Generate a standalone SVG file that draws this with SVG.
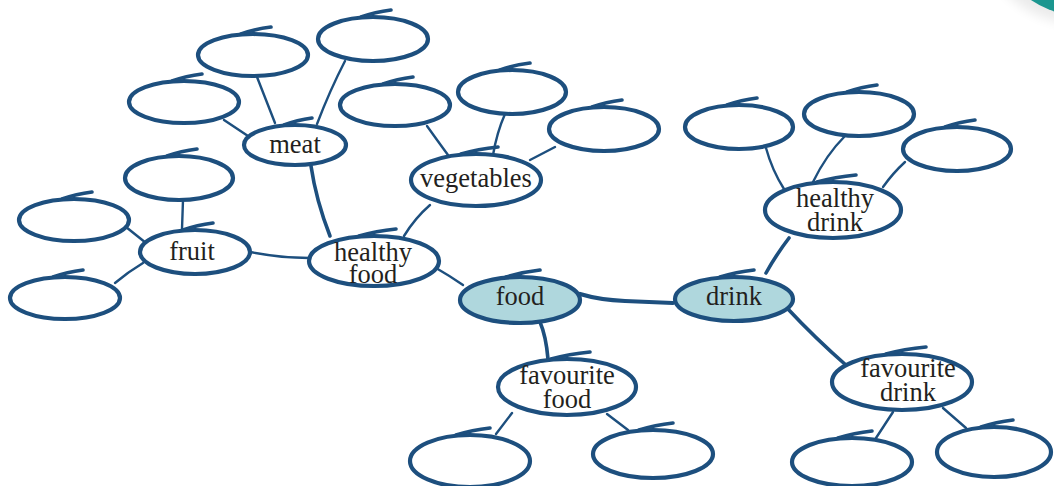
<svg xmlns="http://www.w3.org/2000/svg" width="1054" height="486" viewBox="0 0 1054 486">
  <defs>
    <style>
      .ring { fill: #ffffff; stroke: #1d4f7e; stroke-width: 4.2; }
      .hub { fill: #afd7dd; stroke: #1d4f7e; stroke-width: 4.2; }
      .tail { fill: none; stroke: #1d4f7e; stroke-width: 3.6; stroke-linecap: round; }
      .link { fill: none; stroke: #1d4f7e; stroke-width: 2.4; stroke-linecap: round; }
      .link.heavy { stroke-width: 3.6; }
      .label { font-family: "Liberation Serif", "Times New Roman", serif; font-size: 26.5px; fill: #231f20; text-anchor: middle; }
    </style>
    <filter id="soft" x="-50%" y="-50%" width="200%" height="200%">
      <feGaussianBlur stdDeviation="6"/>
    </filter>
  </defs>

  <rect width="1054" height="486" fill="#ffffff"/>

  <!-- corner badge -->
  <g id="corner-badge">
    <circle cx="1080" cy="-80" r="104" fill="#000000" opacity="0.08" filter="url(#soft)"/>
    <circle cx="1087" cy="-84" r="101" fill="#1b968f"/>
  </g>

  <!-- connectors -->
  <g id="connectors">
    <path class="link" d="M257,77 L275,123"/>
    <path class="link" d="M345,61 Q330,90 317,124"/>
    <path class="link" d="M224,120 L248,136"/>
    <path class="link heavy" d="M311,166 Q316,200 330,236"/>
    <path class="link" d="M427,126 Q437,140 448,155"/>
    <path class="link" d="M505,114 Q497,132 493,155"/>
    <path class="link" d="M555,147 L530,160"/>
    <path class="link" d="M430,205 Q415,218 404,236"/>
    <path class="link" d="M183,200 L182,229"/>
    <path class="link" d="M126,227 L146,243"/>
    <path class="link" d="M115,283 Q128,272 143,263"/>
    <path class="link" d="M250,252 Q280,258 309,258"/>
    <path class="link" d="M436,268 Q450,276 463,285"/>
    <path class="link heavy" d="M580,294 Q600,300 625,301 L673,303" style="stroke-width:4.2"/>
    <path class="link heavy" d="M540,322 Q546,336 548,359"/>
    <path class="link heavy" d="M766,273 Q776,255 789,238"/>
    <path class="link heavy" d="M787,308 Q815,338 847,366"/>
    <path class="link" d="M766,148 Q772,170 784,189"/>
    <path class="link" d="M845,136 Q826,155 813,182"/>
    <path class="link" d="M905,162 Q893,173 883,187"/>
    <path class="link" d="M512,413 L496,434"/>
    <path class="link" d="M607,414 L628,430"/>
    <path class="link" d="M893,412 L876,438"/>
    <path class="link" d="M943,408 L966,428"/>
  </g>

  <!-- blank bubbles: each ring has a pen over-stroke along its top -->
  <g id="blank-1" transform="translate(253,55)"><ellipse class="ring" rx="55" ry="21"/><path class="tail" d="M-12,-21 Q2,-26 18,-28"/></g>
  <g id="blank-2" transform="translate(373,39)"><ellipse class="ring" rx="55" ry="22"/><path class="tail" d="M-12,-22 Q2,-27 18,-29"/></g>
  <g id="blank-3" transform="translate(184,102)"><ellipse class="ring" rx="55" ry="21"/><path class="tail" d="M-12,-21 Q2,-26 18,-28"/></g>
  <g id="blank-4" transform="translate(395,105)"><ellipse class="ring" rx="55" ry="21"/><path class="tail" d="M-12,-21 Q2,-26 18,-28"/></g>
  <g id="blank-5" transform="translate(512,92)"><ellipse class="ring" rx="54" ry="22"/><path class="tail" d="M-12,-22 Q2,-27 18,-29"/></g>
  <g id="blank-6" transform="translate(604,129)"><ellipse class="ring" rx="55" ry="22"/><path class="tail" d="M-12,-22 Q2,-27 18,-29"/></g>
  <g id="blank-7" transform="translate(179,178)"><ellipse class="ring" rx="54" ry="22"/><path class="tail" d="M-12,-22 Q2,-27 18,-29"/></g>
  <g id="blank-8" transform="translate(74,220)"><ellipse class="ring" rx="55" ry="21"/><path class="tail" d="M-12,-21 Q2,-26 18,-28"/></g>
  <g id="blank-9" transform="translate(65,298)"><ellipse class="ring" rx="55" ry="21"/><path class="tail" d="M-12,-21 Q2,-26 18,-28"/></g>
  <g id="blank-10" transform="translate(739,127)"><ellipse class="ring" rx="54" ry="22"/><path class="tail" d="M-12,-22 Q2,-27 18,-29"/></g>
  <g id="blank-11" transform="translate(859,114)"><ellipse class="ring" rx="55" ry="22"/><path class="tail" d="M-12,-22 Q2,-27 18,-29"/></g>
  <g id="blank-12" transform="translate(957,149)"><ellipse class="ring" rx="54" ry="22"/><path class="tail" d="M-12,-22 Q2,-27 18,-29"/></g>
  <g id="blank-13" transform="translate(470,461)"><ellipse class="ring" rx="60" ry="26"/><path class="tail" d="M-14,-26 Q2,-31 20,-33"/></g>
  <g id="blank-14" transform="translate(653,454)"><ellipse class="ring" rx="60" ry="24"/><path class="tail" d="M-14,-24 Q2,-29 20,-31"/></g>
  <g id="blank-15" transform="translate(852,462)"><ellipse class="ring" rx="60" ry="24"/><path class="tail" d="M-14,-24 Q2,-29 20,-31"/></g>
  <g id="blank-16" transform="translate(994,452)"><ellipse class="ring" rx="57" ry="25"/><path class="tail" d="M-13,-25 Q2,-30 19,-32"/></g>

  <!-- labelled bubbles -->
  <g id="node-meat" transform="translate(295,145)">
    <ellipse class="ring" rx="51" ry="20"/><path class="tail" d="M-11,-20 Q2,-25 17,-27"/>
    <text class="label" x="0" y="8">meat</text>
  </g>
  <g id="node-vegetables" transform="translate(476,180)">
    <ellipse class="ring" rx="65" ry="26"/><path class="tail" d="M-15,-26 Q2,-31 22,-33"/>
    <text class="label" x="0" y="7">vegetables</text>
  </g>
  <g id="node-fruit" transform="translate(195,252)">
    <ellipse class="ring" rx="55" ry="22"/><path class="tail" d="M-12,-22 Q2,-27 18,-29"/>
    <text class="label" x="-3" y="8">fruit</text>
  </g>
  <g id="node-healthy-food" transform="translate(374,261)">
    <ellipse class="ring" rx="65" ry="25"/><path class="tail" d="M-15,-25 Q2,-30 22,-32"/>
    <text class="label" x="-1" y="0">healthy</text>
    <text class="label" x="-1" y="22">food</text>
  </g>
  <g id="node-food" transform="translate(520,300)">
    <ellipse class="hub" rx="60" ry="23"/><path class="tail" d="M-14,-23 Q2,-28 20,-30"/>
    <text class="label" x="0" y="5">food</text>
  </g>
  <g id="node-drink" transform="translate(734,299)">
    <ellipse class="hub" rx="59" ry="22"/><path class="tail" d="M-14,-22 Q2,-27 20,-29"/>
    <text class="label" x="0" y="6">drink</text>
  </g>
  <g id="node-healthy-drink" transform="translate(833,210)">
    <ellipse class="ring" rx="68" ry="28"/><path class="tail" d="M-16,-28 Q2,-33 23,-35"/>
    <text class="label" x="2" y="-3">healthy</text>
    <text class="label" x="2" y="21">drink</text>
  </g>
  <g id="node-favourite-food" transform="translate(567,387)">
    <ellipse class="ring" rx="69" ry="28"/><path class="tail" d="M-16,-28 Q2,-33 23,-35"/>
    <text class="label" x="0" y="-3">favourite</text>
    <text class="label" x="0" y="21">food</text>
  </g>
  <g id="node-favourite-drink" transform="translate(902,382)">
    <ellipse class="ring" rx="70" ry="28"/><path class="tail" d="M-16,-28 Q2,-33 24,-35"/>
    <text class="label" x="6" y="-5">favourite</text>
    <text class="label" x="6" y="19">drink</text>
  </g>
</svg>
